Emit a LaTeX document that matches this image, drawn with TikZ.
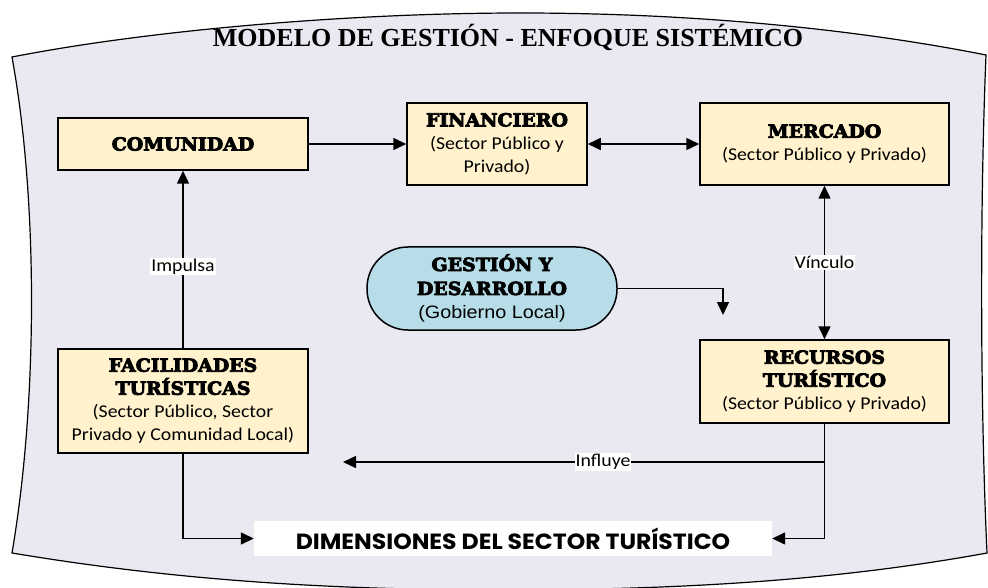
\documentclass[tikz,border=0pt]{standalone}
\usepackage{fontspec}
\setmainfont{Liberation Serif}
\newfontfamily\heavyf{DejaVu Serif}[FakeStretch=1.05, FakeBold=4.5]
\newfontfamily\calibf{Carlito}[FakeStretch=1.1]
\newfontfamily\arialf{Liberation Sans}[FakeStretch=1.1]
\newfontfamily\dimf{Poppins}[FakeStretch=1.07]
\usetikzlibrary{arrows.meta}
\definecolor{bgcol}{RGB}{234,232,241}
\definecolor{boxcol}{RGB}{255,242,204}
\definecolor{ovalcol}{RGB}{183,222,232}
\newcommand\hdtxt{\heavyf\bfseries\fontsize{18}{23}\selectfont}
\newcommand\bodytxt{\calibf\fontsize{18}{23}\selectfont}
\begin{document}
\begin{tikzpicture}[x=1pt,y=-1pt,
  box/.style={draw=black, line width=1.5pt, fill=boxcol, align=center, inner sep=0pt,
    font=\fontsize{18}{23}\selectfont},
  arr/.style={line width=1.5pt, -{Triangle[length=13pt,width=12pt]}},
  darr/.style={line width=1.5pt, {Triangle[length=13pt,width=12pt]}-{Triangle[length=13pt,width=12pt]}},
  lbl/.style={fill=white, inner sep=1pt, font=\calibf\fontsize{18}{22}\selectfont}]
\useasboundingbox (0,0) rectangle (988,588);
% background
\draw[line width=1.2pt, fill=bgcol]
  (12,57) .. controls (150,30) and (350,13) .. (520,13)
  .. controls (700,13) and (860,30) .. (986,55)
  .. controls (980,200) and (980,400) .. (987,553)
  .. controls (850,578) and (700,590) .. (500,590)
  .. controls (300,590) and (150,576) .. (12,553)
  .. controls (38,400) and (38,200) .. (12,57) -- cycle;
\node[anchor=base, font=\bfseries\fontsize{26}{30}\selectfont] (title) at (508,47) {MODELO DE GESTIÓN - ENFOQUE SISTÉMICO};
% boxes
\node[box, minimum width=250pt, minimum height=52pt] (comunidad) at (183,144) {{\hdtxt COMUNIDAD}};
\node[box, minimum width=180pt, minimum height=82pt] (financiero) at (497,144)
  {{\hdtxt FINANCIERO}\\{\bodytxt (Sector Público y}\\{\bodytxt Privado)}};
\node[box, minimum width=249pt, minimum height=82pt] (mercado) at (824.5,144)
  {{\hdtxt MERCADO}\\{\bodytxt (Sector Público y Privado)}};
\node[box, minimum width=250pt, minimum height=104pt] (facilidades) at (183,401)
  {{\hdtxt FACILIDADES}\\{\hdtxt TURÍSTICAS}\\{\bodytxt (Sector Público, Sector}\\{\bodytxt Privado y Comunidad Local)}};
\node[box, minimum width=249pt, minimum height=83pt] (recursos) at (824.5,381.5)
  {{\hdtxt RECURSOS}\\{\hdtxt TURÍSTICO}\\{\bodytxt (Sector Público y Privado)}};
\node[box, fill=ovalcol, rounded corners=41pt, minimum width=250pt, minimum height=83pt,
  font=\fontsize{18}{24}\selectfont] (gestion) at (492,288.5)
  {{\hdtxt GESTIÓN Y}\\{\hdtxt DESARROLLO}\\{\arialf\fontsize{18}{24}\selectfont (Gobierno Local)}};
\node[fill=white, minimum width=518pt, minimum height=35pt, inner sep=0pt,
  font=\dimf\bfseries\fontsize{22}{24}\selectfont] (dimensiones) at (513,538.5) {DIMENSIONES DEL SECTOR TURÍSTICO};
% connectors
\coordinate (gEnd) at (723,315);
\coordinate (influyeEnd) at (343,462);
\draw[arr] (comunidad) -- (financiero);
\draw[darr] (financiero) -- (mercado);
\draw[darr] (mercado) -- node[lbl, pos=0.5] (vinculo) {Vínculo} (recursos);
\draw[arr] (facilidades) -- node[lbl, pos=0.46] (impulsa) {Impulsa} (comunidad);
\draw[arr] (gestion.east) -| (gEnd);
\draw[arr] (recursos.south) |- (dimensiones.east);
\draw[arr] (recursos.south |- influyeEnd) -- node[lbl, pos=0.46] (influye) {Influye} (influyeEnd);
\draw[arr] (facilidades.south) |- (dimensiones.west);
\end{tikzpicture}
\end{document}
